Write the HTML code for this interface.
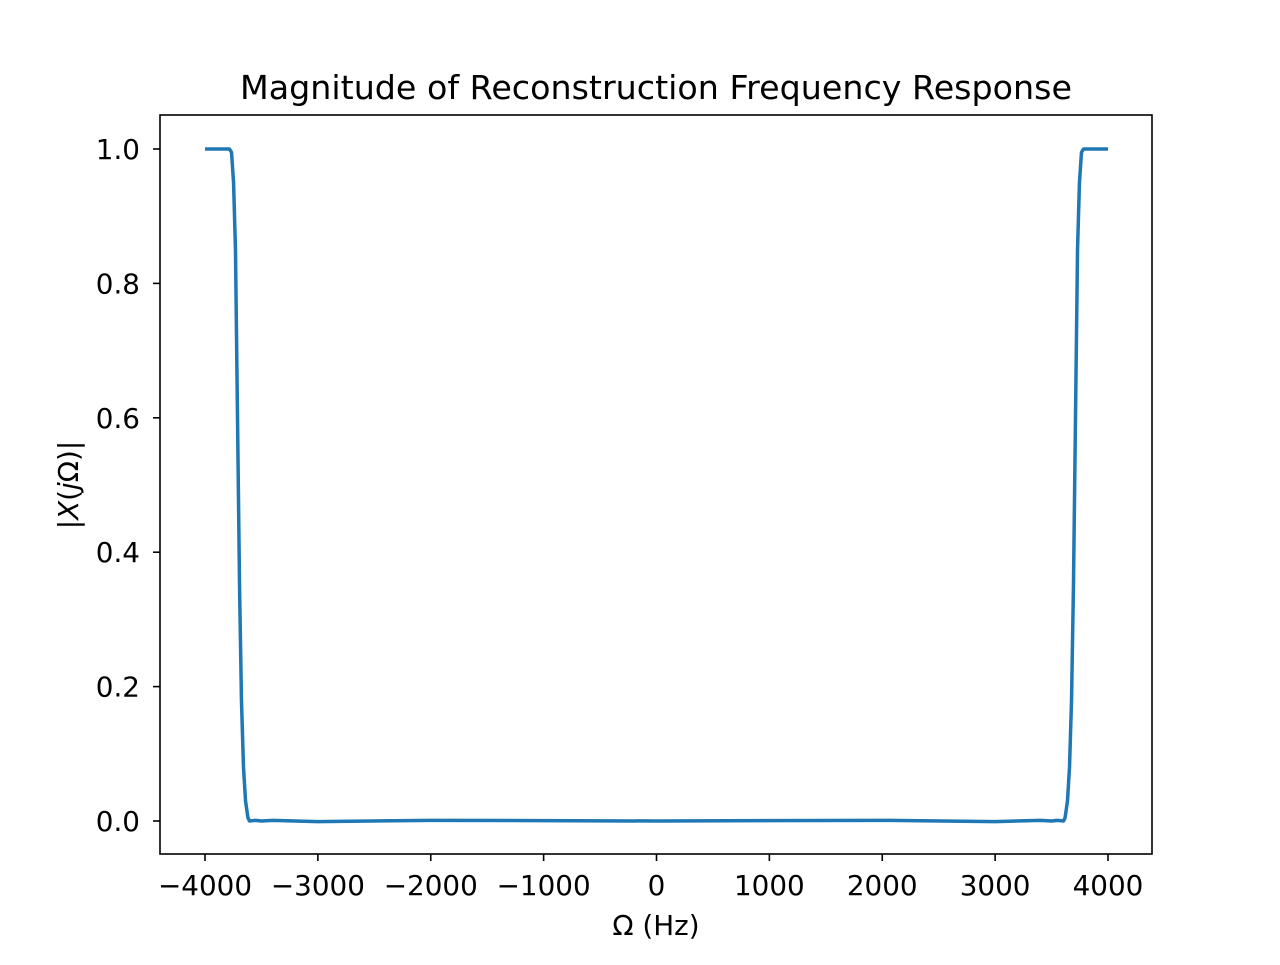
<!DOCTYPE html>
<html><head><meta charset="utf-8"><style>
body{margin:0;background:#fff;width:1280px;height:960px;overflow:hidden}
text{font-family:"DejaVu Sans","Liberation Sans",sans-serif;fill:#000}
</style></head><body>
<svg id="chart" width="1280" height="960">
<rect width="1280" height="960" fill="#fff"/>
<text x="656" y="99" font-size="33.3" text-anchor="middle">Magnitude of Reconstruction Frequency Response</text>
<g id="axes"></g>
<text x="656" y="935" font-size="27.8" text-anchor="middle">Ω (Hz)</text>
<text transform="translate(78,485) rotate(-90)" font-size="27.8" text-anchor="middle">|<tspan font-style="italic">X</tspan>(<tspan font-style="italic">j</tspan>Ω)|</text>
</svg>
<script>
const xTicks=[-4000,-3000,-2000,-1000,0,1000,2000,3000,4000];
const yTicks=[0.0,0.2,0.4,0.6,0.8,1.0];
const freqs=[-4000,-3800,-3783,-3765,-3747,-3730,-3712,-3694,-3677,-3659,-3641,-3620,-3606,-3550,-3500,-3400,-3000,-2000,0,2000,3000,3400,3500,3550,3606,3620,3641,3659,3677,3694,3712,3730,3747,3765,3783,3800,4000];
const mags=[1,1,1,0.995,0.95,0.85,0.6,0.35,0.18,0.08,0.03,0.005,0,0.001,0,0.001,-0.001,0.001,0,0.001,-0.001,0.001,0,0.001,0,0.005,0.03,0.08,0.18,0.35,0.6,0.85,0.95,0.995,1,1,1];
const L=160,R=1152,T=115,B=854;
const sx=v=>656.5+v*903/8000;
const sy=v=>821-v*672;
const ns="http://www.w3.org/2000/svg";
const g=document.getElementById('axes');
function mk(t,a,p){const e=document.createElementNS(ns,t);for(const k in a)e.setAttribute(k,a[k]);(p||g).appendChild(e);return e;}
xTicks.forEach(v=>{
 const l=mk('line',{x1:sx(v),x2:sx(v),y1:B,y2:B+7,stroke:'#000','stroke-width':1.6});
 
 
 const t=mk('text',{x:sx(v),y:B+41,'font-size':27.8,'text-anchor':'middle'});
 t.textContent=(v<0?'\u2212':'')+Math.abs(v);
 
 
});
yTicks.forEach(v=>{
 const l=mk('line',{x1:L-7,x2:L,y1:sy(v),y2:sy(v),stroke:'#000','stroke-width':1.6});
 
 
 const t=mk('text',{x:L-20,y:sy(v)+10,'font-size':27.8,'text-anchor':'end'});
 t.textContent=v.toFixed(1);
 
 
});
const p=mk('polyline',{points:freqs.map((f,i)=>sx(f)+','+sy(mags[i])).join(' '),fill:'none',stroke:'#1f77b4','stroke-width':3.5,'stroke-linejoin':'round'});


const fr=mk('rect',{x:L,y:T,width:R-L,height:B-T,fill:'none',stroke:'#000','stroke-width':1.6});


</script>
</body></html>
